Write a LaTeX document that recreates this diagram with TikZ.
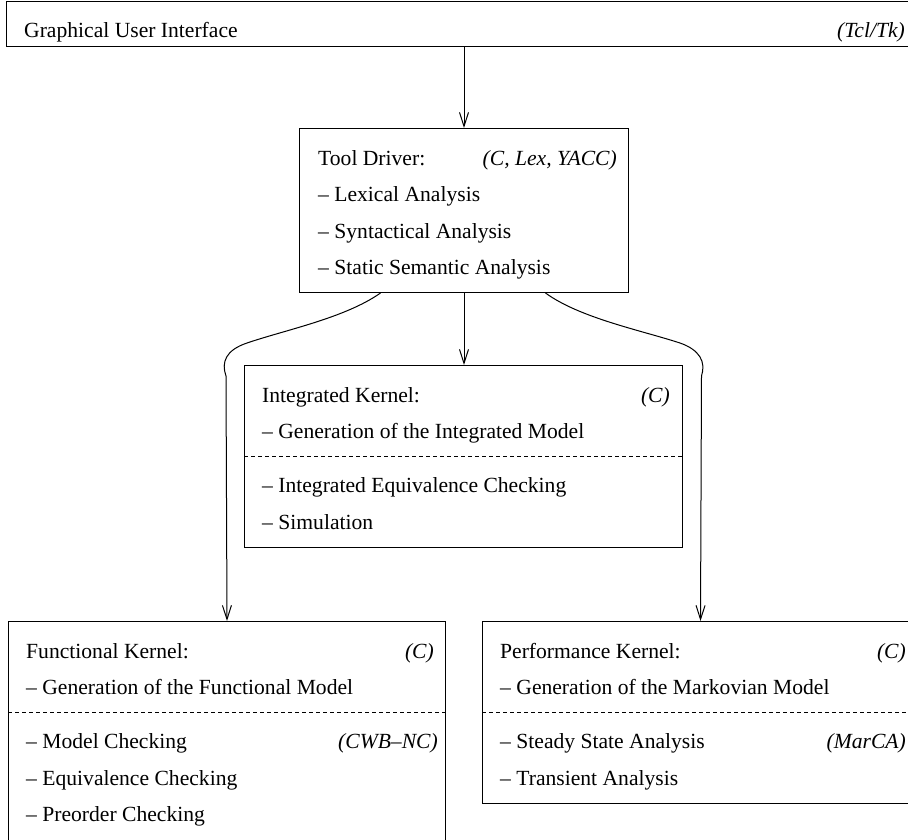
\documentclass[tikz,border=0pt]{standalone}
\usepackage{fontspec}
\setmainfont{Liberation Serif}
\usetikzlibrary{arrows.meta,calc}
\begin{document}
\begin{tikzpicture}[x=1pt,y=-1pt,
  box/.style={draw, line width=1pt, inner sep=0pt, anchor=north west},
  txt/.style={anchor=base west, inner sep=0pt, font=\fontsize{21.6}{26}\selectfont},
  tag/.style={anchor=base east, inner sep=0pt, font=\fontsize{21.6}{26}\selectfont\itshape},
  arr/.style={line width=1pt, -{Straight Barb[length=14pt,width=9pt]}},
  sep/.style={line width=0.8pt, dash pattern=on 4pt off 3pt}]
\useasboundingbox (0,0) rectangle (908,839);
\clip (0,0) rectangle (908,839);
% GUI bar
\node[box, minimum width=911pt, minimum height=45pt] (gui) at (6,1) {};
\node[txt] (guit) at (24,37) {Graphical User Interface};
\node[tag] (guitag) at (905,37) {(Tcl/Tk)};
% Tool driver
\node[box, minimum width=329pt, minimum height=164pt] (td) at (299,128) {};
\node[txt] (td1) at (318,165) {Tool Driver:};
\node[tag] (tdtag) at (617,165) {(C, Lex, YACC)};
\node[txt] (td2) at (318,201.5) {-- Lexical Analysis};
\node[txt] (td3) at (318,238) {-- Syntactical Analysis};
\node[txt] (td4) at (318,274.5) {-- Static Semantic Analysis};
% Integrated kernel
\node[box, minimum width=438pt, minimum height=182pt] (ik) at (244,365) {};
\node[txt] (ik1) at (262,402) {Integrated Kernel:};
\node[tag] (iktag) at (670,402) {(C)};
\node[txt] (ik2) at (262,438.5) {-- Generation of the Integrated Model};
\draw[sep] (ik.west |- 0,456) -- (ik.east |- 0,456);
\node[txt] (ik3) at (262,492.5) {-- Integrated Equivalence Checking};
\node[txt] (ik4) at (262,529) {-- Simulation};
% Functional kernel
\node[box, minimum width=437pt, minimum height=222pt] (fk) at (8,621) {};
\node[txt] (fk1) at (26,658) {Functional Kernel:};
\node[tag] (fktag) at (434,658) {(C)};
\node[txt] (fk2) at (26,694.5) {-- Generation of the Functional Model};
\draw[sep] (fk.west |- 0,712) -- (fk.east |- 0,712);
\node[txt] (fk3) at (26,748.5) {-- Model Checking};
\node[tag] (fktag2) at (438,748.5) {(CWB--NC)};
\node[txt] (fk4) at (26,785) {-- Equivalence Checking};
\node[txt] (fk5) at (26,821.5) {-- Preorder Checking};
% Performance kernel
\node[box, minimum width=436pt, minimum height=182pt] (pk) at (482,621) {};
\node[txt] (pk1) at (500,658) {Performance Kernel:};
\node[tag] (pktag) at (906,658) {(C)};
\node[txt] (pk2) at (500,694.5) {-- Generation of the Markovian Model};
\draw[sep] (pk.west |- 0,712) -- (pk.east |- 0,712);
\node[txt] (pk3) at (500,748.5) {-- Steady State Analysis};
\node[tag] (pktag2) at (906,748.5) {(MarCA)};
\node[txt] (pk4) at (500,785) {-- Transient Analysis};
% connectors
\draw[arr] (td.north |- gui.south) -- (td.north);
\draw[arr] (td.south) -- (td.south |- ik.north);
\draw[arr] ($(td.south)+(-83.5,0)$) .. controls (345,318) and (285,330) .. (247,343)
   .. controls (226,350) and (221,362) .. ($(fk.north)+(-1,-245)$) -- (fk.north);
\draw[arr] ($(td.south)+(81.5,0)$) .. controls (580,318) and (640,330) .. (680,343)
   .. controls (700,350) and (706,362) .. ($(pk.north)+(1,-245)$) -- (pk.north);
\end{tikzpicture}
\end{document}
